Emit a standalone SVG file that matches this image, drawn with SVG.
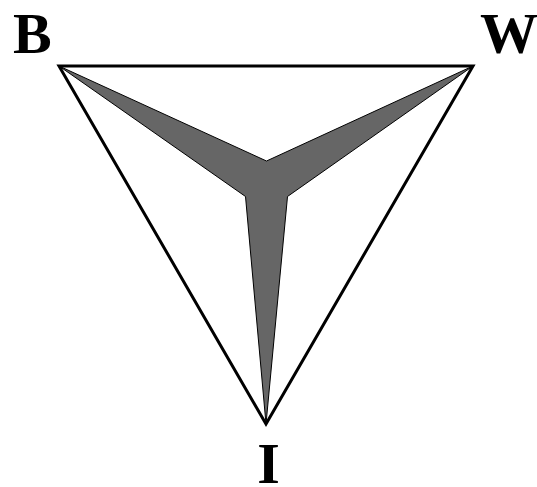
<svg xmlns="http://www.w3.org/2000/svg" width="537" height="487" viewBox="0 0 537 487">
<style>
.lbl{font-family:"Liberation Serif","Times New Roman",serif;font-weight:bold;font-size:58px;fill:#000}
</style>
<rect width="537" height="487" fill="#fff"/>
<g id="star">
<polygon points="59,66 266.5,161 473,66 287.5,196.5 266,424 245.5,196.5" fill="#666666" stroke="#000" stroke-width="1" stroke-linejoin="miter"/>
</g>
<g id="connectors">
<polygon points="59,66 473,66 266,424" fill="none" stroke="#000" stroke-width="3" stroke-linejoin="miter"/>
</g>
<g id="node-B"><text class="lbl" x="13" y="53">B</text></g>
<g id="node-W"><text class="lbl" x="480" y="53">W</text></g>
<g id="node-I"><text class="lbl" x="268.5" y="483" text-anchor="middle">I</text></g>
</svg>
